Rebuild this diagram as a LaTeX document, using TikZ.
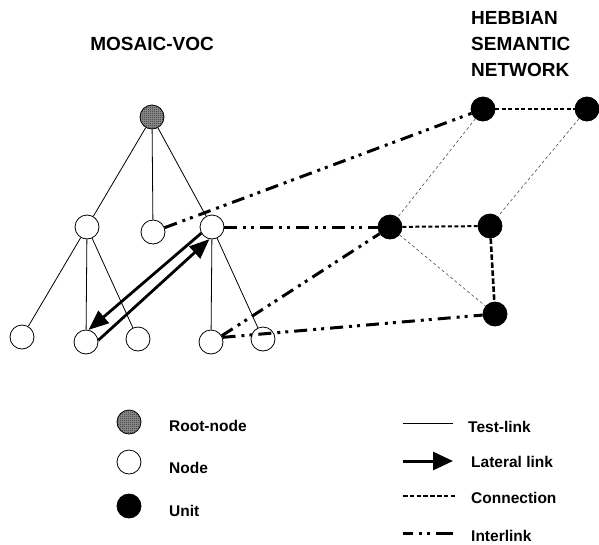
\documentclass[tikz,border=0pt]{standalone}
\usepackage{fontspec}
\setmainfont{Liberation Sans}
\usetikzlibrary{arrows.meta,patterns.meta}
\tikzdeclarepattern{
  name=finecheck,
  type=uncolored,
  bottom left={(0pt,0pt)},
  top right={(2pt,2pt)},
  tile size={(2pt,2pt)},
  code={\fill (0pt,0pt) rectangle (1pt,1pt); \fill (1pt,1pt) rectangle (2pt,2pt);}
}
\tikzset{
  vnode/.style={circle,draw,line width=0.8pt,fill=white,minimum size=24pt,inner sep=0pt},
  rootnode/.style={circle,draw,line width=0.8pt,minimum size=24pt,inner sep=0pt,preaction={fill=black!40},pattern=finecheck},
  unitnode/.style={circle,draw,line width=0.8pt,fill=black,minimum size=24pt,inner sep=0pt},
  testlink/.style={line width=0.8pt},
  lateral/.style={line width=2.8pt,-{Triangle[length=20pt,width=16pt]}},
  interlink/.style={line width=3pt,dash pattern=on 13pt off 6pt on 3pt off 5pt on 3pt off 6pt},
  connthick/.style={line width=2pt,dash pattern=on 4pt off 2.5pt},
  connvert/.style={line width=2.6pt,dash pattern=on 5.5pt off 2.5pt},
  connthin/.style={line width=0.6pt,draw=black!70,dash pattern=on 3pt off 2.5pt},
  title/.style={font=\fontsize{19}{23}\selectfont\bfseries,inner sep=0pt,anchor=base},
  ltext/.style={font=\fontsize{15.5}{18}\selectfont\bfseries,inner sep=0pt,anchor=base west}
}
\begin{document}
\begin{tikzpicture}[x=1pt,y=-1pt]
\useasboundingbox (0,0) rectangle (599,544);

% titles
\node[title] (t1) at (152,50) {MOSAIC-VOC};
\node[title,anchor=base west] (h1) at (471,24) {HEBBIAN};
\node[title,anchor=base west] (h2) at (471,50.5) {SEMANTIC};
\node[title,anchor=base west] (h3) at (471,76) {NETWORK};

% MOSAIC tree
\node[rootnode] (R) at (152,117) {};
\node[vnode] (A) at (87,227) {};
\node[vnode] (B) at (153,232) {};
\node[vnode] (C) at (212,227) {};
\node[vnode] (D) at (22,337) {};
\node[vnode] (E) at (86,342) {};
\node[vnode] (F) at (138,339) {};
\node[vnode] (G) at (211,342) {};
\node[vnode] (H) at (263,339) {};

% units
\node[unitnode] (U1) at (483,109) {};
\node[unitnode] (U2) at (587,109) {};
\node[unitnode] (U3) at (390,227) {};
\node[unitnode] (U4) at (490,226) {};
\node[unitnode] (U5) at (495,314) {};

% test links
\draw[testlink] (R) -- (A);
\draw[testlink] (R) -- (B);
\draw[testlink] (R) -- (C);
\draw[testlink] (A) -- (D);
\draw[testlink] (A) -- (E);
\draw[testlink] (A) -- (F);
\draw[testlink] (C) -- (G);
\draw[testlink] (C) -- (H);

% lateral links
\draw[lateral] (C.210) -- (E.78);
\draw[lateral] (E.8) -- (C.258);

% connections
\draw[connthick] (U1) -- (U2);
\draw[connthick] (U3) -- (U4);
\draw[connvert] (U4) -- (U5);
\draw[connthin] (U1) -- (U3);
\draw[connthin] (U2) -- (U4);
\draw[connthin] (U3) -- (U5);

% interlinks
\draw[interlink] (B) -- (U1);
\draw[interlink] (C) -- (U3);
\draw[interlink] (G.30) -- (U3);
\draw[interlink] (G.22) -- (U5);

% legend left
\node[rootnode] (LR) at (129,422) {};
\node[vnode] (LN) at (129,462) {};
\node[unitnode] (LU) at (129,506) {};
\node[ltext] (LRt) at (169,431.5) {Root-node};
\node[ltext] (LNt) at (169,473) {Node};
\node[ltext] (LUt) at (169,516.5) {Unit};

% legend right
\coordinate (a1) at (403,423); \coordinate (a2) at (453,423);
\coordinate (b1) at (403,461); \coordinate (b2) at (453,461);
\coordinate (c1) at (403,496); \coordinate (c2) at (455,496);
\coordinate (d1) at (403,533); \coordinate (d2) at (453,533);
\draw[testlink] (a1) -- (a2);
\draw[line width=3pt,-{Triangle[length=20pt,width=18pt]}] (b1) -- (b2);
\draw[line width=1.6pt,dash pattern=on 4.5pt off 2.3pt] (c1) -- (c2);
\draw[line width=3pt,dash pattern=on 10pt off 6pt on 3pt off 5pt on 3pt off 6pt on 20pt] (d1) -- (d2);
\node[ltext] (Lt1) at (468,432) {Test-link};
\node[ltext] (Lt2) at (471,467) {Lateral link};
\node[ltext] (Lt3) at (471,503) {Connection};
\node[ltext] (Lt4) at (471,541) {Interlink};
\end{tikzpicture}
\end{document}
